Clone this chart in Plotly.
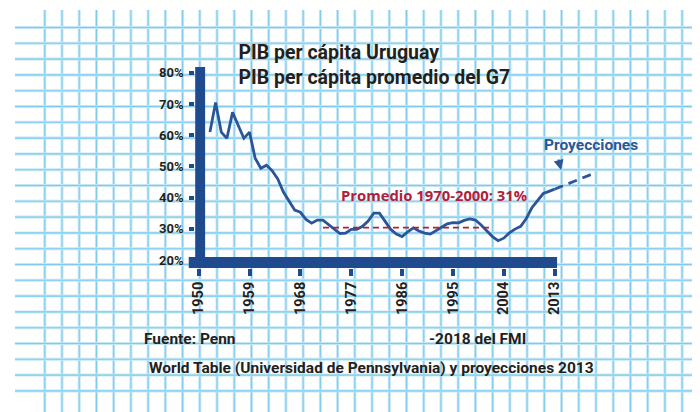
import plotly.graph_objects as go

# ---------------- data ----------------
years = list(range(1952, 2014))
ratio_pct = [61.0, 70.5, 61.0, 59.0, 67.3, 63.3, 59.0, 61.0, 52.6, 49.4,
             50.4, 48.6, 46.0, 41.8, 39.0, 36.0, 35.3, 33.0, 31.8, 32.8,
             32.8, 31.4, 29.8, 28.5, 28.6, 29.8, 29.8, 30.8, 32.5, 35.0,
             35.0, 32.2, 29.8, 28.3, 27.5, 29.0, 30.3, 29.3, 28.6, 28.3,
             29.3, 30.5, 31.6, 32.0, 31.9, 32.7, 33.2, 32.8, 31.2, 29.5,
             27.5, 26.2, 27.0, 28.7, 29.9, 30.8, 33.3, 36.8, 39.2, 41.3,
             42.0, 42.7]
proj_years = list(range(2013, 2021))
proj_pct = [42.7, 43.4, 44.2, 45.0, 45.7, 46.4, 47.1, 47.8]
avg_years = [1972, 2002]
avg_pct = [30.4, 30.4]

x_ticks = [1950, 1959, 1968, 1977, 1986, 1995, 2004, 2013]
y_ticks = [20, 30, 40, 50, 60, 70, 80]
y_tick_text = ["20%", "30%", "40%", "50%", "60%", "70%", "80%"]

title_lines = ["PIB per cápita Uruguay", "PIB per cápita promedio del G7"]
avg_label = "Promedio 1970-2000: 31%"
proj_label = "Proyecciones"
source_a = "Fuente: Penn"
source_b = "-2018 del FMI"
source_c = "World Table (Universidad de Pennsylvania) y proyecciones 2013"

# ---------------- styling ----------------
W, H = 700, 412
OX, OY = 8, 8          # page offset of the figure (default body margin)
BAR = "#1f4b8e"
LINE = "#2a5699"
RED = "#b0203a"
DARK = "#231f20"
GRID_LIGHT = "#c4e7f7"
GRID_DARK = "#7fcbec"
FONT = "Roboto"
WIDE = "Open Sans"


def px(x):
    return (x - OX) / W


def py(y):
    return 1 - (y - OY) / H


# pixel geometry (page coordinates) of the plotting area
left_px, right_px = 191.5, 640.0
bottom_px, top_px = 268.0, 60.0
x0_px, px_per_year = 195.0, 5.69
y20_px, px_per_pct = 260.0, 3.12

x_range = [1950 + (left_px - x0_px) / px_per_year,
           1950 + (right_px - x0_px) / px_per_year]
y_range = [20 + (y20_px - bottom_px) / px_per_pct,
           20 + (y20_px - top_px) / px_per_pct]

fig = go.Figure()

fig.add_trace(go.Scatter(x=years, y=ratio_pct, mode="lines",
                         line=dict(color=LINE, width=2.8), hoverinfo="skip"))
fig.add_trace(go.Scatter(x=proj_years, y=proj_pct, mode="lines",
                         line=dict(color=LINE, width=2.8, dash="9px,6px"),
                         hoverinfo="skip"))
fig.add_trace(go.Scatter(x=avg_years, y=avg_pct, mode="lines",
                         line=dict(color=RED, width=1.8, dash="6px,4px"),
                         hoverinfo="skip"))

shapes = []
# graph-paper background
gx = 40.0
while gx <= 683:
    for col, w in ((GRID_LIGHT, 3), (GRID_DARK, 1.1)):
        shapes.append(dict(type="line", xref="paper", yref="paper",
                           x0=px(gx), x1=px(gx), y0=py(10), y1=py(425),
                           line=dict(color=col, width=w), layer="below"))
    gx += 17.35
gy = 27.5
while gy <= 392:
    for col, w in ((GRID_LIGHT, 3), (GRID_DARK, 1.1)):
        shapes.append(dict(type="line", xref="paper", yref="paper",
                           x0=px(10), x1=px(715), y0=py(gy), y1=py(gy),
                           line=dict(color=col, width=w), layer="below"))
    gy += 15.8

# thick axis bars
shapes.append(dict(type="rect", xref="paper", yref="paper",
                   x0=px(191.5), x1=px(201.5), y0=py(268), y1=py(67),
                   fillcolor=BAR, line=dict(width=0), layer="above"))
shapes.append(dict(type="rect", xref="paper", yref="paper",
                   x0=px(185), x1=px(556), y0=py(268), y1=py(257),
                   fillcolor=BAR, line=dict(width=0), layer="above"))

annotations = []


def note(text, x, y, size, color, family=FONT):
    annotations.append(dict(text=text, xref="paper", yref="paper",
                            x=px(x), y=py(y), xanchor="left", yanchor="middle",
                            showarrow=False,
                            font=dict(family=family, size=size, color=color, weight=700)))


note(avg_label, 336, 195, 14.8, RED, WIDE)
note(proj_label, 541, 145, 15.5, "#2b5797")
note(source_a, 138, 339, 15.5, DARK)
note(source_b, 425, 339, 15.5, DARK)
note(source_c, 143, 368, 15.5, DARK)

# little arrow below "Proyecciones"
annotations.append(dict(text="", xref="paper", yref="paper",
                        x=px(560), y=py(170), ax=-3, ay=-12,
                        showarrow=True, arrowhead=2, arrowsize=1,
                        arrowwidth=2, arrowcolor="#2b5797"))

fig.update_layout(
    width=W, height=H,
    margin=dict(l=0, r=0, t=0, b=0),
    paper_bgcolor="white",
    plot_bgcolor="rgba(0,0,0,0)",
    showlegend=False,
    title=dict(text="<br>".join(title_lines), x=px(235), xanchor="left",
               xref="paper", y=py(59), yref="paper", yanchor="top",
               font=dict(family=FONT, size=19.5, color=DARK, weight=700)),
    shapes=shapes,
    annotations=annotations,
    xaxis=dict(domain=[px(left_px), px(right_px)], range=x_range,
               showgrid=False, zeroline=False, showline=False,
               tickvals=x_ticks, ticktext=[str(v) for v in x_ticks],
               tickangle=-90, ticks="outside", ticklen=7, tickwidth=4,
               tickcolor=BAR, ticklabelstandoff=0,
               tickfont=dict(family=FONT, size=14.5, color=DARK, weight=700)),
    yaxis=dict(domain=[py(bottom_px), py(top_px)], range=y_range,
               showgrid=False, zeroline=False, showline=False,
               tickvals=y_ticks, ticktext=y_tick_text,
               ticks="outside", ticklen=5, tickwidth=4, tickcolor=BAR,
               ticklabelstandoff=3,
               tickfont=dict(family=FONT, size=13, color=DARK, weight=700)),
)

fig.write_html("out.html")
